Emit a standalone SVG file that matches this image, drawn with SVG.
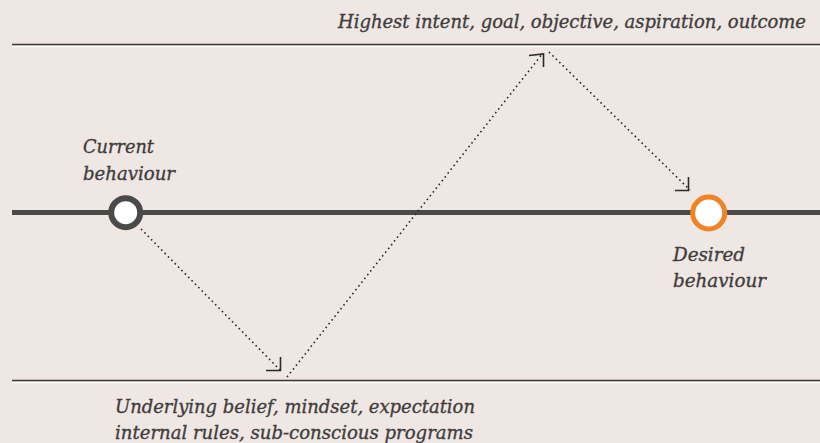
<svg xmlns="http://www.w3.org/2000/svg" width="820" height="443" viewBox="0 0 820 443">
<style>
.t{font-family:"DejaVu Serif","Liberation Serif",serif;font-style:italic;font-size:18.5px;fill:#403d3c;stroke:#403d3c;stroke-width:0.35}
.rule{stroke:#3a3a3a;stroke-width:1.6}
.hl{stroke:#ffffff;stroke-width:1.2}
.dot{fill:none;stroke:#2b2b2b;stroke-width:1.6;stroke-dasharray:1.6 3.2}
.head{fill:none;stroke:#2b2b2b;stroke-width:1.6}
</style>
<rect width="820" height="443" fill="#eee7e3"/>
<g id="top-level">
<line class="rule" x1="12" y1="44.5" x2="820" y2="44.5"/>
<line class="hl" x1="12" y1="46.6" x2="820" y2="46.6"/>
<text class="t" x="338" y="28" textLength="468" lengthAdjust="spacingAndGlyphs">Highest intent, goal, objective, aspiration, outcome</text>
</g>
<g id="bottom-level">
<line class="rule" x1="12" y1="380.5" x2="820" y2="380.5"/>
<line class="hl" x1="12" y1="382.6" x2="820" y2="382.6"/>
<text class="t" x="115" y="413" textLength="360" lengthAdjust="spacingAndGlyphs">Underlying belief, mindset, expectation</text>
<text class="t" x="115" y="439" textLength="358" lengthAdjust="spacingAndGlyphs">internal rules, sub-conscious programs</text>
</g>
<g id="timeline">
<line x1="12" y1="212.5" x2="820" y2="212.5" stroke="#4a4a4a" stroke-width="5"/>
</g>
<g id="connectors">
<path class="dot" d="M141 229 L282 372"/>
<path class="head" d="M280.5 357 V370.5 H266"/>
<path class="dot" d="M287 377 L543 53"/>
<path class="head" d="M529 55.5 L543.5 54 V67"/>
<path class="dot" d="M549 52 L690 190"/>
<path class="head" d="M688.5 177 V190.5 H675"/>
</g>
<g id="current">
<circle cx="125.7" cy="212.7" r="14.5" fill="#ffffff" stroke="#4a4a4a" stroke-width="6"/>
<text class="t" x="83" y="152.5" textLength="71" lengthAdjust="spacingAndGlyphs">Current</text>
<text class="t" x="83" y="180" textLength="92" lengthAdjust="spacingAndGlyphs">behaviour</text>
</g>
<g id="desired">
<circle cx="708.7" cy="213" r="16" fill="#ffffff" stroke="#f08326" stroke-width="5"/>
<text class="t" x="673" y="260.5" textLength="72" lengthAdjust="spacingAndGlyphs">Desired</text>
<text class="t" x="673" y="287" textLength="93" lengthAdjust="spacingAndGlyphs">behaviour</text>
</g>
</svg>
